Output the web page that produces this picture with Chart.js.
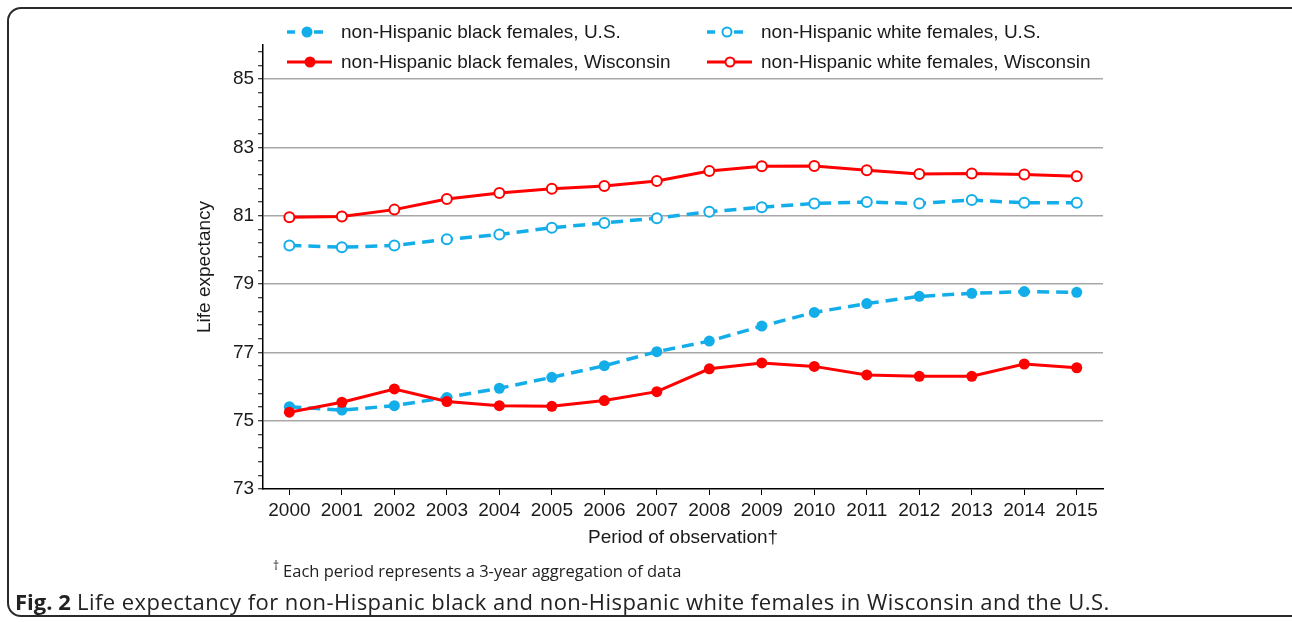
<!DOCTYPE html>
<html>
<head>
<meta charset="utf-8">
<script src="https://cdn.jsdelivr.net/npm/chart.js@4/dist/chart.umd.min.js"></script>
<style>
  html, body { margin: 0; padding: 0; background: #fff; }
  body { width: 1292px; height: 622px; position: relative; overflow: hidden; font-family: "Liberation Sans", Arial, sans-serif; }
  #frame { position: absolute; left: 7px; top: 7px; width: 1310px; height: 610px; border: 2px solid #2a2a2a; border-radius: 14px; box-sizing: border-box; }
  #chart { position: absolute; left: 0; top: 0; }
  .leg { position: absolute; display: flex; align-items: center; font-size: 19px; color: #1a1a1a; white-space: nowrap; }
  #note { position: absolute; left: 273px; top: 557px; font-family: "Open Sans", sans-serif; font-size: 16.5px; color: #222; }
  #note sup { font-size: 12px; margin-right: 4px; }
  #caption { position: absolute; left: 15px; top: 586px; font-family: "Open Sans", sans-serif; font-size: 22px; letter-spacing: 0.45px; color: #222; white-space: nowrap; }
  #caption b { font-weight: 700; letter-spacing: 0; }
</style>
</head>
<body>
<div id="frame"></div>
<canvas id="chart" width="1292" height="622"></canvas>
<div id="legend"></div>
<div id="note"><sup>†</sup>Each period represents a 3-year aggregation of data</div>
<div id="caption"><b>Fig. 2</b> Life expectancy for non-Hispanic black and non-Hispanic white females in Wisconsin and the U.S.</div>
<script>
const years = ['2000','2001','2002','2003','2004','2005','2006','2007','2008','2009','2010','2011','2012','2013','2014','2015'];
const usBlack = [75.41,75.31,75.44,75.68,75.95,76.27,76.61,77.02,77.33,77.77,78.17,78.43,78.64,78.73,78.78,78.76];
const usWhite = [80.13,80.08,80.13,80.31,80.45,80.65,80.79,80.93,81.12,81.25,81.36,81.40,81.36,81.46,81.38,81.38];
const wiBlack = [75.25,75.54,75.93,75.56,75.44,75.42,75.59,75.85,76.52,76.69,76.59,76.34,76.30,76.30,76.66,76.55];
const wiWhite = [80.96,80.98,81.18,81.49,81.67,81.79,81.87,82.02,82.31,82.45,82.46,82.33,82.22,82.24,82.21,82.16];
const yLabels = [73,75,77,79,81,83,85];
const yMinorStep = 0.4;

const blue = '#13aee9';
const red = '#ff0000';

// minor ticks every 0.4 between the labelled values (two more above 85)
const yTicks = [];
yLabels.forEach(v => {
    yTicks.push(v);
    const n = v === 85 ? 2 : 4;
    for (let k = 1; k <= n; k++) yTicks.push(+(v + k * yMinorStep).toFixed(1));
});
const isLabel = v => yLabels.includes(Math.round(v * 10) / 10);

const datasets = [
    { label: 'non-Hispanic black females, U.S.', data: usBlack, borderColor: blue, backgroundColor: blue,
      borderDash: [12, 7], borderWidth: 3.5, pointRadius: 5.5, pointBorderWidth: 0, pointBackgroundColor: blue, order: 2 },
    { label: 'non-Hispanic white females, U.S.', data: usWhite, borderColor: blue, backgroundColor: '#fff',
      borderDash: [12, 7], borderWidth: 3.5, pointRadius: 5, pointBorderWidth: 2, pointBackgroundColor: '#fff', order: 3 },
    { label: 'non-Hispanic black females, Wisconsin', data: wiBlack, borderColor: red, backgroundColor: red,
      borderWidth: 3, pointRadius: 5.5, pointBorderWidth: 0, pointBackgroundColor: red, order: 0 },
    { label: 'non-Hispanic white females, Wisconsin', data: wiWhite, borderColor: red, backgroundColor: '#fff',
      borderWidth: 3, pointRadius: 5, pointBorderWidth: 2, pointBackgroundColor: '#fff', order: 1 }
];

const chart = new Chart(document.getElementById('chart'), {
    type: 'line',
    data: { labels: years, datasets: datasets },
    options: {
        responsive: false,
        animation: false,
        layout: { padding: { left: 193.6, right: 189, top: 45, bottom: 72.4 } },
        plugins: { legend: { display: false }, tooltip: { enabled: false } },
        elements: { line: { tension: 0 } },
        scales: {
            x: {
                offset: true,
                grid: { drawOnChartArea: false, tickColor: '#000', tickLength: 6, offset: false },
                border: { color: '#000', width: 1.5 },
                ticks: { color: '#1a1a1a', font: { family: 'Liberation Sans', size: 19 }, padding: 4, maxRotation: 0, autoSkip: false },
                title: { display: true, text: 'Period of observation†', color: '#1a1a1a',
                         font: { family: 'Liberation Sans', size: 19 }, padding: { top: 1, bottom: 0 } }
            },
            y: {
                min: 73, max: 86,
                afterBuildTicks: axis => { axis.ticks = yTicks.map(v => ({ value: v })); },
                grid: {
                    color: c => (c.tick && isLabel(c.tick.value) && c.tick.value > 73) ? '#a8a8a8' : 'rgba(0,0,0,0)',
                    lineWidth: 1.5, tickColor: '#000', tickLength: 5, tickWidth: 1
                },
                border: { color: '#000', width: 1.5 },
                ticks: {
                    color: '#1a1a1a', font: { family: 'Liberation Sans', size: 19 }, padding: 4, autoSkip: false,
                    callback: v => isLabel(v) ? String(Math.round(v)) : ''
                },
                title: { display: true, text: 'Life expectancy', color: '#1a1a1a',
                         font: { family: 'Liberation Sans', size: 19 }, padding: { top: 0, bottom: 12.6 } }
            }
        }
    }
});

// legend in two columns, built from the datasets
const legendPos = [[287, 32], [707, 32], [287, 62], [707, 62]];
const legend = document.getElementById('legend');
chart.data.datasets.forEach((ds, i) => {
    const item = document.createElement('div');
    item.className = 'leg';
    item.style.left = legendPos[i][0] + 'px';
    item.style.top = (legendPos[i][1] - 12) + 'px';
    const dashed = !!ds.borderDash;
    const fill = ds.pointBackgroundColor;
    const line = dashed
        ? `<line x1="0" y1="12" x2="8" y2="12" stroke="${ds.borderColor}" stroke-width="3.5"/>
           <line x1="27" y1="12" x2="36" y2="12" stroke="${ds.borderColor}" stroke-width="3.5"/>`
        : `<line x1="0" y1="12" x2="45" y2="12" stroke="${ds.borderColor}" stroke-width="3"/>`;
    const cx = dashed ? 20 : 23;
    const circ = fill === '#fff'
        ? `<circle cx="${cx}" cy="12" r="4.5" fill="#fff" stroke="${ds.borderColor}" stroke-width="2"/>`
        : `<circle cx="${cx}" cy="12" r="5.5" fill="${fill}"/>`;
    item.innerHTML = `<svg width="${dashed ? 40 : 46}" height="24">${line}${circ}</svg><span>${ds.label}</span>`;
    item.querySelector('svg').style.marginRight = dashed ? '14px' : '8px';
    legend.appendChild(item);
});
</script>
</body>
</html>
